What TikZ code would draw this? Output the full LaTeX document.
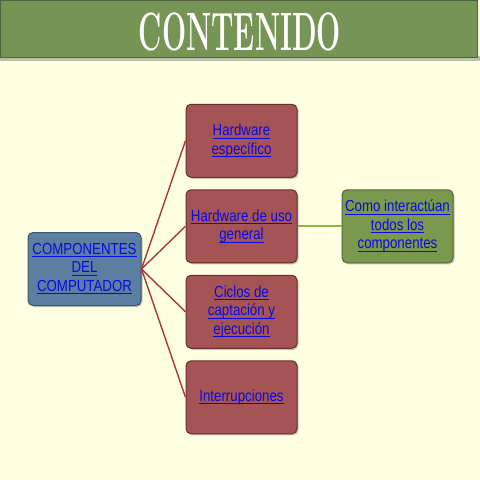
\documentclass[tikz,border=0pt]{standalone}
\usepackage{amsmath}
\usepackage{fontspec}
\usepackage{graphicx}
\usepackage{xcolor}
\usetikzlibrary{shadows}
\newfontfamily\boxfont{Liberation Sans}
\definecolor{paper}{RGB}{255,255,226}
\definecolor{barfill}{RGB}{118,148,86}
\definecolor{barline}{RGB}{80,100,60}
\definecolor{redfill}{RGB}{164,84,84}
\definecolor{redline}{RGB}{110,45,45}
\definecolor{bluefill}{RGB}{92,126,160}
\definecolor{blueline}{RGB}{60,85,110}
\definecolor{greenfill}{RGB}{122,152,78}
\definecolor{greenline}{RGB}{80,105,50}
\definecolor{linkblue}{RGB}{10,10,225}
\definecolor{wirered}{RGB}{175,55,55}
\definecolor{wiregreen}{RGB}{140,180,70}
\newcommand{\lnk}[1]{\scalebox{0.83}[1]{\underline{\smash[b]{#1}}}}

\begin{document}
\begin{tikzpicture}[x=1pt, y=1pt, grow'=right,
    level distance=157pt, sibling distance=85.5pt,
    level 2/.style = {level distance=156pt},
    box/.style = {shape=rectangle, rounded corners=5pt,
      draw, line width=1pt, align=center,
      minimum width=111pt, minimum height=73pt, inner sep=2pt,
      font=\boxfont\fontsize{16}{18.5}\selectfont, text=linkblue,
      drop shadow={opacity=0.45, shadow xshift=1.5pt, shadow yshift=-1.5pt}},
    rootbox/.style = {box, fill=bluefill, draw=blueline, minimum width=113pt},
    itembox/.style = {box, fill=redfill, draw=redline},
    notebox/.style = {box, fill=greenfill, draw=greenline},
    edge from parent/.style = {draw=wirered, line width=1.4pt},
    edge from parent path = {(\tikzparentnode.east) -- (\tikzchildnode.west)}]
    \fill[paper] (0,0) rectangle (480,-480);
    \useasboundingbox (0,0) rectangle (480,-480);
    % title bar
    \fill[black, opacity=0.25] (0,-56) rectangle (480,-61);
    \fill[barfill] (0,0) rectangle (478,-57);
    \draw[barline, line width=1pt] (0.5,-0.5) rectangle (477.5,-57);
    \node[text=white] (title) at (240,-31.5)
      {\scalebox{0.53}[1]{\fontsize{54}{54}\selectfont\bfseries CONTENIDO}};
    % map
    \node[rootbox] (root) at (84.5,-269) {\lnk{COMPONENTES}\\ \lnk{DEL}\\ \lnk{COMPUTADOR}}
      child { node[itembox] (hwesp) {\lnk{Hardware}\\ \lnk{específico}}}
      child { node[itembox] (hwgen) {\lnk{Hardware de uso}\\ \lnk{general}}
                child { node[notebox] (inter) {\lnk{Como interactúan}\\ \lnk{todos los}\\ \lnk{componentes}}
                        edge from parent[draw=wiregreen, line width=1.6pt]}}
      child { node[itembox] (ciclos) {\lnk{Ciclos de}\\ \lnk{captación y}\\ \lnk{ejecución}}}
      child { node[itembox] (irq) {\lnk{Interrupciones}}};
  \end{tikzpicture}
\end{document}
